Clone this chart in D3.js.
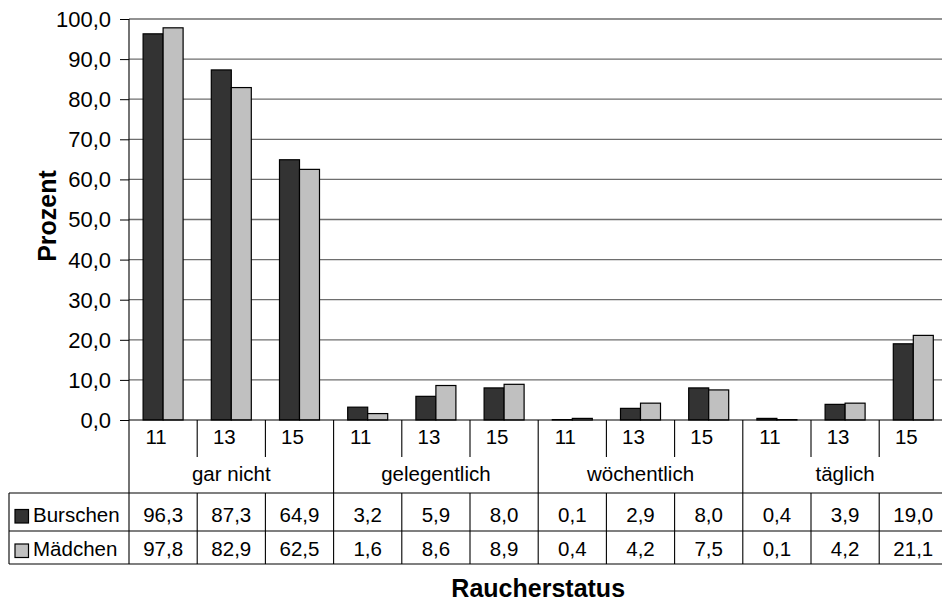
<!DOCTYPE html>
<html>
<head>
<meta charset="utf-8">
<script src="https://cdn.jsdelivr.net/npm/d3@7"></script>
<style>
  html, body { margin: 0; padding: 0; background: #fff; }
  svg { display: block; font-family: "Liberation Sans", Arial, sans-serif; }
</style>
</head>
<body>
<svg id="chart" width="942" height="601"></svg>
<script>
const groups = ["gar nicht", "gelegentlich", "wöchentlich", "täglich"];
const ages = ["11", "13", "15"];
const seriesNames = ["Burschen", "Mädchen"];
const burschen = [96.3, 87.3, 64.9, 3.2, 5.9, 8.0, 0.1, 2.9, 8.0, 0.4, 3.9, 19.0];
const maedchen = [97.8, 82.9, 62.5, 1.6, 8.6, 8.9, 0.4, 4.2, 7.5, 0.1, 4.2, 21.1];
const yTickValues = [0, 10, 20, 30, 40, 50, 60, 70, 80, 90, 100];
const colors = ["#333333", "#c0c0c0"];

(function () {
const svg = d3.select("#chart");
const fmt = v => v.toFixed(1).replace(".", ",");

// layout
const plotLeft = 129, plotRight = 947.4, plotTop = 19, zeroY = 420;
const labelRowBottom = 457, tableTop = 493, rowMid = 531, tableBottom = 564, legendLeft = 9;

const cols = [];
groups.forEach(g => ages.forEach(a => cols.push(g + "|" + a)));
const series = [burschen, maedchen];

const x = d3.scaleBand().domain(cols).range([plotLeft, plotRight]).padding(0);
const x1 = d3.scaleBand().domain(seriesNames).range([0, x.bandwidth()]).paddingInner(0).paddingOuter(0.705);
const y = d3.scaleLinear().domain([0, 100]).range([zeroY, plotTop]);

// gridlines
svg.append("g").selectAll("line").data(yTickValues.filter(d => d > 0)).join("line")
  .attr("x1", plotLeft).attr("x2", plotRight)
  .attr("y1", d => y(d)).attr("y2", d => y(d))
  .attr("stroke", "#6e6e6e").attr("stroke-width", 1.3);

// y axis
const yAxis = d3.axisLeft(y).tickValues(yTickValues).tickFormat(fmt).tickSizeOuter(0).tickSizeInner(9).tickPadding(9);
const ga = svg.append("g").attr("transform", `translate(${plotLeft},0)`).call(yAxis);
ga.select(".domain").remove();
ga.selectAll(".tick line").attr("stroke", "#000");
ga.selectAll(".tick text").attr("font-size", "22px").attr("fill", "#000")
  .attr("font-family", "Liberation Sans, Arial, sans-serif").attr("dy", "0.34em");

// bars
const bars = svg.append("g");
cols.forEach((c, i) => {
  seriesNames.forEach((s, j) => {
    const v = series[j][i];
    bars.append("rect")
      .attr("x", x(c) + x1(s))
      .attr("y", y(v))
      .attr("width", x1.bandwidth())
      .attr("height", Math.max(0, zeroY - y(v)))
      .attr("fill", colors[j])
      .attr("stroke", "#000").attr("stroke-width", 1.2);
  });
});

// axis lines
const lines = svg.append("g").attr("stroke", "#000").attr("stroke-width", 1.1);
lines.append("line").attr("x1", plotLeft).attr("x2", plotLeft).attr("y1", plotTop).attr("y2", tableBottom);
lines.append("line").attr("x1", plotLeft).attr("x2", plotRight).attr("y1", zeroY).attr("y2", zeroY);

// column dividers
cols.forEach((c, i) => {
  if (i === 0) return;
  const xx = x(c);
  const isGroup = i % 3 === 0;
  if (isGroup) {
    lines.append("line").attr("x1", xx).attr("x2", xx).attr("y1", zeroY).attr("y2", tableBottom);
  } else {
    lines.append("line").attr("x1", xx).attr("x2", xx).attr("y1", zeroY).attr("y2", labelRowBottom);
    lines.append("line").attr("x1", xx).attr("x2", xx).attr("y1", tableTop).attr("y2", tableBottom);
  }
});
// table horizontal lines
[tableTop, rowMid, tableBottom].forEach(yy => {
  lines.append("line").attr("x1", legendLeft).attr("x2", plotRight).attr("y1", yy).attr("y2", yy);
});
lines.append("line").attr("x1", legendLeft).attr("x2", legendLeft).attr("y1", tableTop).attr("y2", tableBottom);

// age labels
svg.append("g").selectAll("text").data(cols).join("text")
  .attr("x", d => x(d) + x.bandwidth() / 2 - 7)
  .attr("y", 444)
  .attr("text-anchor", "middle").attr("font-size", "20.5px")
  .text(d => d.split("|")[1]);

// group labels
svg.append("g").selectAll("text").data(groups).join("text")
  .attr("x", g => (x(g + "|11") + x(g + "|15") + x.bandwidth()) / 2)
  .attr("y", 481)
  .attr("text-anchor", "middle").attr("font-size", "20.5px")
  .text(g => g);

// table values
const rowBase = [521.5, 556];
seriesNames.forEach((s, j) => {
  svg.append("g").selectAll("text").data(series[j]).join("text")
    .attr("x", (d, i) => x(cols[i]) + x.bandwidth() / 2)
    .attr("y", rowBase[j])
    .attr("text-anchor", "middle").attr("font-size", "20.5px")
    .text(d => fmt(d));
  svg.append("rect").attr("x", 15).attr("y", rowBase[j] - 12).attr("width", 13.5).attr("height", 13.5)
    .attr("fill", colors[j]).attr("stroke", "#000").attr("stroke-width", 1.2);
  svg.append("text").attr("x", 33).attr("y", rowBase[j]).attr("font-size", "20.5px").text(s);
});

// axis titles
svg.append("text").attr("transform", "translate(56,216) rotate(-90)")
  .attr("text-anchor", "middle").attr("font-size", "25px").attr("font-weight", "bold").text("Prozent");
svg.append("text").attr("x", (plotLeft + plotRight) / 2).attr("y", 597)
  .attr("text-anchor", "middle").attr("font-size", "25px").attr("font-weight", "bold").text("Raucherstatus");
})();
</script>
</body>
</html>
